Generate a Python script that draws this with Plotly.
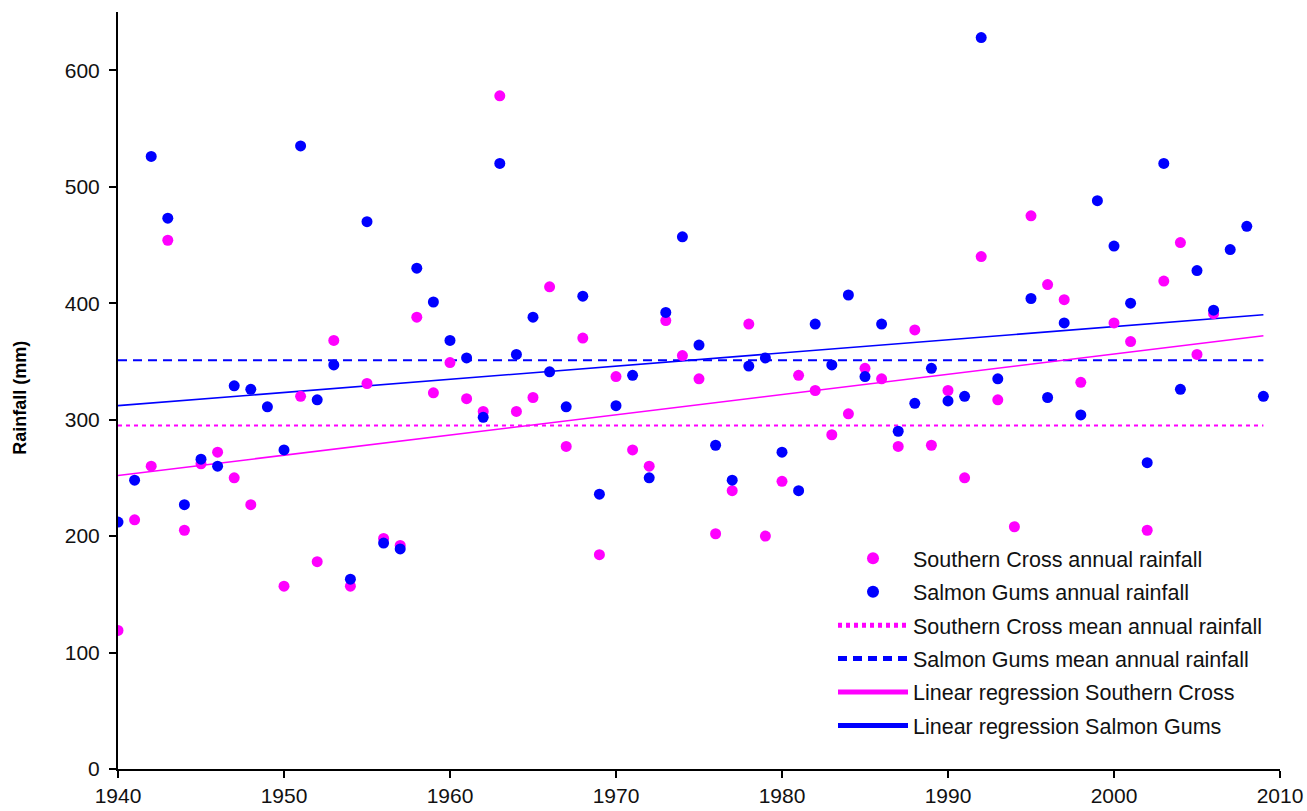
import plotly.graph_objects as go

years = list(range(1940, 2010))

southern_cross = [
    119, 214, 260, 454, 205, 262, 272, 250, 227, None,   # 1940-1949
    157, 320, 178, 368, 157, 331, 198, 192, 388, 323,    # 1950-1959
    349, 318, 307, 578, 307, 319, 414, 277, 370, 184,    # 1960-1969
    337, 274, 260, 385, 355, 335, 202, 239, 382, 200,    # 1970-1979
    247, 338, 325, 287, 305, 344, 335, 277, 377, 278,    # 1980-1989
    325, 250, 440, 317, 208, 475, 416, 403, 332, None,   # 1990-1999
    383, 367, 205, 419, 452, 356, 391, None, None, None, # 2000-2009
]

salmon_gums = [
    212, 248, 526, 473, 227, 266, 260, 329, 326, 311,    # 1940-1949
    274, 535, 317, 347, 163, 470, 194, 189, 430, 401,    # 1950-1959
    368, 353, 302, 520, 356, 388, 341, 311, 406, 236,    # 1960-1969
    312, 338, 250, 392, 457, 364, 278, 248, 346, 353,    # 1970-1979
    272, 239, 382, 347, 407, 337, 382, 290, 314, 344,    # 1980-1989
    316, 320, 628, 335, None, 404, 319, 383, 304, 488,   # 1990-1999
    449, 400, 263, 520, 326, 428, 394, 446, 466, 320,    # 2000-2009
]

line_years = [1940, 2009]
sc_mean = [295, 295]
sg_mean = [351, 351]
sc_regression = [252, 372]
sg_regression = [312, 390]

x_ticks = [1940, 1950, 1960, 1970, 1980, 1990, 2000, 2010]
y_ticks = [0, 100, 200, 300, 400, 500, 600]

MAGENTA = "#FF00FF"
BLUE = "#0000FF"
FONT = "Liberation Sans, Arial, sans-serif"

fig = go.Figure()

fig.add_trace(go.Scatter(
    x=line_years, y=sc_mean, mode="lines",
    line=dict(color=MAGENTA, width=2, dash="4px,4px"),
    name="Southern Cross mean annual rainfall", legendgroup="c", legendrank=3))
fig.add_trace(go.Scatter(
    x=line_years, y=sg_mean, mode="lines",
    line=dict(color=BLUE, width=2, dash="9px,6px"),
    name="Salmon Gums mean annual rainfall", legendgroup="d", legendrank=4))
fig.add_trace(go.Scatter(
    x=line_years, y=sc_regression, mode="lines",
    line=dict(color=MAGENTA, width=1.6),
    name="Linear regression Southern Cross", legendgroup="e", legendrank=5))
fig.add_trace(go.Scatter(
    x=line_years, y=sg_regression, mode="lines",
    line=dict(color=BLUE, width=1.6),
    name="Linear regression Salmon Gums", legendgroup="f", legendrank=6))
fig.add_trace(go.Scatter(
    x=years, y=southern_cross, mode="markers",
    marker=dict(color=MAGENTA, size=11, line=dict(width=0)),
    name="Southern Cross annual rainfall", legendgroup="a", legendrank=1))
fig.add_trace(go.Scatter(
    x=years, y=salmon_gums, mode="markers",
    marker=dict(color=BLUE, size=11, line=dict(width=0)),
    name="Salmon Gums annual rainfall", legendgroup="b", legendrank=2))

fig.update_layout(
    width=1307, height=811,
    margin=dict(l=118, r=27, t=12, b=42, autoexpand=False),
    paper_bgcolor="white", plot_bgcolor="white",
    font=dict(family=FONT, size=21, color="black"),
    showlegend=True,
    legend=dict(
        x=(833 - 118) / 1162, y=(769.3 - 538) / 757.3,
        xanchor="left", yanchor="top",
        font=dict(family=FONT, size=21.5, color="#111111"),
        bgcolor="rgba(0,0,0,0)",
        traceorder="grouped", tracegroupgap=2.5,
        itemwidth=70, itemsizing="constant",
    ),
    xaxis=dict(
        range=[1940, 2010], tickvals=x_ticks,
        ticktext=[str(v) for v in x_ticks],
        showgrid=False, zeroline=False,
        showline=True, linecolor="black", linewidth=2,
        ticks="outside", ticklen=7, tickwidth=1.5, tickcolor="black",
        tickfont=dict(family=FONT, size=21, color="#111111"),
    ),
    yaxis=dict(
        range=[0, 650], tickvals=y_ticks,
        ticktext=[str(v) for v in y_ticks],
        showgrid=False, zeroline=False,
        showline=True, linecolor="black", linewidth=2,
        ticks="outside", ticklen=7, tickwidth=1.5, tickcolor="black",
        tickfont=dict(family=FONT, size=21, color="#111111"),
        ticklabelstandoff=5,
    ),
    annotations=[dict(
        text="<b>Rainfall (mm)</b>", textangle=-90,
        xref="paper", yref="paper",
        x=(20 - 118) / 1162, y=(769.3 - 398) / 757.3,
        xanchor="center", yanchor="middle", showarrow=False,
        font=dict(family=FONT, size=18, color="black"),
    )],
)

fig.write_html("out.html")
